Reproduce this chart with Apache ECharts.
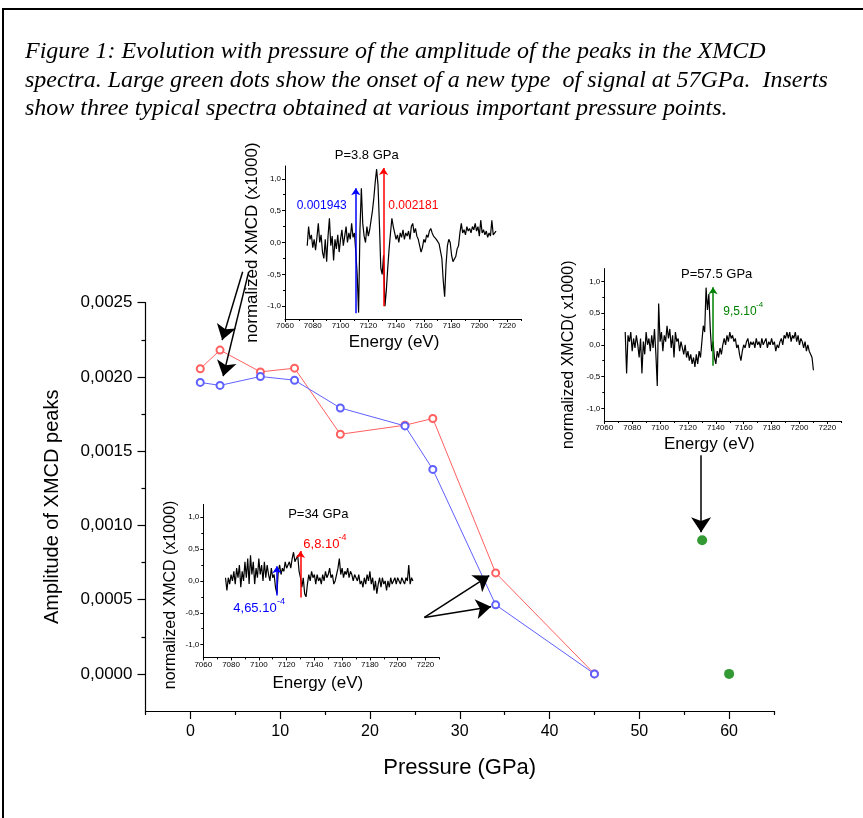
<!DOCTYPE html>
<html><head><meta charset="utf-8">
<script src="https://cdn.jsdelivr.net/npm/echarts@6/dist/echarts.min.js"></script>
<style>html,body{margin:0;padding:0;background:#fff}#c{width:863px;height:818px}</style>
</head><body><div id="c"></div>
<script>
// ---------- main chart data ----------
const pressure = [1.1, 3.3, 7.8, 11.6, 16.7, 23.9, 27.0, 34.0, 45.0];
const ampRed   = [0.002055, 0.002181, 0.002034, 0.002059, 0.001614, 0.001675, 0.00172, 0.00068, 0.0];
const ampBlue  = [0.001963, 0.001943, 0.002003, 0.001978, 0.001791, 0.00167, 0.001377, 0.000465, 0.0];
const greenPressure = [57, 60];
const greenAmp = [0.0009, 0.0];
const xTicks = [0, 10, 20, 30, 40, 50, 60];
const xMinorTicks = [-5, 5, 15, 25, 35, 45, 55, 65];
const yTicks = [0, 0.0005, 0.001, 0.0015, 0.002, 0.0025];
const yMinorTicks = [0.00025, 0.00075, 0.00125, 0.00175, 0.00225];

// ---------- inset data (normalized XMCD x1000, 1 eV step) ----------
const insetXTicks = [7060, 7080, 7100, 7120, 7140, 7160, 7180, 7200, 7220];
const insetXMinorTicks = [7070, 7090, 7110, 7130, 7150, 7170, 7190, 7210, 7230];
const insetYTicks = [-1, -0.5, 0, 0.5, 1];
const insetYMinorTicks = [-0.75, -0.25, 0.25, 0.75];

const spec38Start = 7076;
const spec38 = [
 -0.05, 0.25, 0.05, 0.12, -0.08, 0.05, -0.12, 0.08, 0.30, 0.00,
 0.12, -0.15, -0.25, 0.05, -0.30, 0.10, 0.38, -0.05, 0.10, -0.28,
 0.05, -0.10, 0.12, -0.15, 0.05, 0.20, -0.05, 0.10, 0.25, 0.00,
 0.15, 0.05, 0.30, 0.08, 0.15, -0.15, -0.50, -1.10, 0.20, 0.85,
 0.30, 0.10, 0.00, 0.25, 0.10, 0.20, 0.35, 0.50, 0.70, 0.95,
 1.15, 0.90, 0.30, -0.40, -0.50, -0.20, -1.00, -0.75, -0.40, -0.10,
 0.15, 0.38, 0.25, 0.15, 0.05, 0.12, 0.00, 0.15, 0.08, 0.20,
 0.05, 0.15, 0.10, 0.18, 0.05, 0.25, 0.30, 0.15, 0.22, 0.10,
 0.05, -0.05, -0.15, -0.08, 0.05, 0.00, 0.12, 0.08, 0.18, 0.22,
 0.15, 0.10, 0.12, 0.05, 0.08, -0.02, -0.05, -0.25, -0.60, -0.85,
 -0.35, -0.05, 0.05, 0.00, -0.20, -0.30, -0.28, -0.22, -0.10, -0.05,
 0.15, 0.30, 0.15, 0.20, 0.12, 0.25, 0.18, 0.22, 0.15, 0.25,
 0.20, 0.30, 0.18, 0.25, 0.10, 0.35, 0.15, 0.20, 0.12, 0.18,
 0.08, 0.15, 0.10, 0.35, 0.12, 0.10, 0.18
];

const spec575Start = 7075;
const spec575 = [
 0.20, -0.45, 0.15, 0.05, 0.20, -0.10, 0.10, -0.05, 0.15, 0.00,
 -0.20, 0.10, -0.45, 0.05, -0.15, 0.20, 0.00, 0.10, -0.10, 0.15,
 -0.05, 0.25, -0.15, -0.65, 0.65, 0.05, 0.20, -0.10, 0.15, 0.05,
 0.30, 0.10, 0.25, -0.05, 0.15, -0.20, 0.20, 0.05, 0.10, -0.10,
 0.05, -0.05, -0.15, 0.00, -0.20, -0.10, -0.25, -0.15, -0.30, -0.20,
 -0.35, -0.15, -0.30, -0.10, -0.20, 0.05, 0.30, 0.20, 0.90, 0.55,
 0.80, 0.25, -0.10, 0.05, -0.20, -0.30, -0.10, -0.20, -0.05, -0.15,
 0.00, 0.10, 0.00, 0.15, 0.05, 0.20, 0.10, 0.15, 0.05, 0.10,
 -0.05, 0.00, -0.15, -0.25, -0.10, 0.00, -0.05, 0.05, 0.10, -0.05,
 0.05, 0.00, 0.05, -0.05, 0.10, 0.00, 0.05, -0.05, 0.10, 0.00,
 0.05, 0.10, -0.05, 0.05, 0.00, 0.10, 0.00, 0.05, -0.10, 0.00,
 -0.05, 0.05, 0.10, 0.00, 0.15, 0.10, 0.20, 0.10, 0.20, 0.05,
 0.15, 0.10, 0.20, 0.05, 0.15, 0.00, 0.10, 0.05, -0.05, 0.05,
 -0.10, 0.00, -0.10, -0.15, -0.20, -0.40
];

const spec34Start = 7076;
const spec34 = [
 0.05, -0.15, 0.05, -0.05, 0.10, 0.00, 0.15, -0.05, 0.20, 0.05,
 0.25, -0.10, 0.15, 0.00, 0.30, 0.05, 0.35, -0.05, 0.40, 0.10,
 0.30, -0.05, 0.20, 0.05, 0.35, 0.10, 0.25, 0.00, 0.30, 0.05,
 0.25, 0.10, 0.00, 0.20, 0.05, 0.10, -0.10, -0.20, 0.15, 0.25,
 0.10, 0.20, 0.15, 0.30, 0.20, 0.25, 0.30, 0.20, 0.35, 0.45,
 0.30, 0.35, 0.40, 0.15, 0.05, -0.10, 0.05, -0.20, -0.25, -0.05,
 0.10, 0.00, 0.15, 0.05, 0.10, -0.05, 0.10, 0.00, 0.05, -0.05,
 0.10, 0.00, 0.15, 0.05, 0.10, 0.20, 0.05, 0.10, -0.05, 0.00,
 0.10, 0.20, 0.35, 0.10, 0.20, 0.05, 0.15, 0.10, 0.20, 0.05,
 0.15, 0.10, 0.00, 0.10, 0.05, 0.00, 0.10, -0.05, 0.00, -0.10,
 0.05, -0.05, 0.10, 0.00, 0.15, -0.05, 0.05, -0.15, 0.00, -0.20,
 -0.05, 0.05, -0.10, 0.05, -0.05, 0.00, -0.15, 0.00, -0.10, 0.05,
 -0.05, 0.00, 0.05, -0.05, 0.05, 0.00, -0.05, 0.05, 0.00, -0.05,
 0.05, 0.00, 0.25, -0.05, 0.05, 0.00
];

// ---------- annotation arrows (data coordinates: [start, tip]) ----------
const mainArrows = [
  [[5.82, 0.002708], [3.54, 0.002248]],
  [[6.49, 0.002708], [3.65, 0.002005]],
  [[26.06, 0.00038], [33.29, 0.000662]],
  [[26.06, 0.00038], [33.48, 0.000452]],
  [[56.88, 0.001472], [56.88, 0.000954]]
];
const inset38Arrows = [
  {c: [[7111, -1.11], [7111, 0.85]], color: '#0000ff'},
  {c: [[7131, -1.0], [7131, 1.17]], color: '#ff0000'}
];
const inset575Arrows = [
  {c: [[7138, -0.33], [7138, 0.905]], color: '#008000'}
];
const inset34Arrows = [
  {c: [[7113, -0.23], [7113, 0.23]], color: '#0000ff'},
  {c: [[7130, -0.26], [7130, 0.47]], color: '#ff0000'}
];

// ---------- helpers ----------
const FONT = '"Liberation Sans", Arial, sans-serif';
const pairs = (xs, ys) => xs.map((x, i) => [x, ys[i]]);
const specPairs = (start, vals) => vals.map((v, i) => [start + i, v]);
const comma = d => v => v.toFixed(d).replace('.', ',');

function xAx(grid, min, max, ticks, minor, o) {
  return [{
    gridIndex: grid, type: 'value', min: min, max: max, position: 'bottom',
    axisLine: {show: true, onZero: false, lineStyle: {color: '#000', width: o.lw}},
    axisTick: {show: true, inside: false, length: o.tl, customValues: ticks, lineStyle: {color: '#000', width: o.lw}},
    axisLabel: {show: true, customValues: ticks, margin: o.margin, fontSize: o.fs, color: '#000', fontFamily: FONT,
                formatter: o.fmt},
    splitLine: {show: false},
    name: o.name, nameLocation: 'middle', nameGap: o.nameGap,
    nameTextStyle: {fontSize: o.nfs, color: '#000', fontFamily: FONT, padding: o.npad || 0}
  }, {
    gridIndex: grid, type: 'value', min: min, max: max, position: 'bottom',
    axisLine: {show: false, onZero: false},
    axisTick: {show: true, inside: false, length: o.mtl, customValues: minor, lineStyle: {color: '#000', width: o.lw}},
    axisLabel: {show: false}, splitLine: {show: false}
  }];
}
function yAx(grid, min, max, ticks, minor, o) {
  return [{
    gridIndex: grid, type: 'value', min: min, max: max, position: 'left',
    axisLine: {show: true, onZero: false, lineStyle: {color: '#000', width: o.lw}},
    axisTick: {show: true, inside: false, length: o.tl, customValues: ticks, lineStyle: {color: '#000', width: o.lw}},
    axisLabel: {show: true, customValues: ticks, margin: o.margin, fontSize: o.fs, color: '#000', fontFamily: FONT,
                formatter: o.fmt},
    splitLine: {show: false},
    name: o.name, nameLocation: 'middle', nameGap: o.nameGap,
    nameTextStyle: {fontSize: o.nfs, color: '#000', fontFamily: FONT, padding: o.npad || 0}
  }, {
    gridIndex: grid, type: 'value', min: min, max: max, position: 'left',
    axisLine: {show: false, onZero: false},
    axisTick: {show: true, inside: false, length: o.mtl, customValues: minor, lineStyle: {color: '#000', width: o.lw}},
    axisLabel: {show: false}, splitLine: {show: false}
  }];
}

const insetX = (g, pad, gap) => xAx(g, 7060, 7230, insetXTicks, insetXMinorTicks,
  {lw: 1, tl: 3, mtl: 2, margin: 3, fs: 8, fmt: v => String(v), name: 'Energy (eV)', nameGap: gap, nfs: 17, npad: [0, pad, 0, 0]});
const insetY = (g, name, pad, gap, nfs) => yAx(g, -1.2, 1.2, insetYTicks, insetYMinorTicks,
  {lw: 1, tl: 3, mtl: 2, margin: 4, fs: 8, fmt: comma(1), name: name, nameGap: gap, nfs: nfs, npad: [0, pad, 0, 0]});

const xAxes = [].concat(
  xAx(0, -5, 65, xTicks, xMinorTicks, {lw: 1.2, tl: 8, mtl: 4, margin: 13, fs: 16, fmt: v => String(v),
      name: 'Pressure (GPa)', nameGap: 46, nfs: 22}),
  insetX(1, 18, 15),
  insetX(2, 27, 15),
  insetX(3, 7, 17)
);
const yAxes = [].concat(
  yAx(0, -0.00025, 0.0025, yTicks, yMinorTicks, {lw: 1.2, tl: 8, mtl: 4, margin: 13, fs: 17, fmt: comma(4),
      name: 'Amplitude of XMCD peaks', nameGap: 83, nfs: 20}),
  insetY(1, 'normalized XMCD (x1000)', 0, 24, 17),
  insetY(2, 'normalized XMCD( x1000)', 20, 28, 16),
  insetY(3, 'normalized XMCD (x1000)', 28, 25, 16)
);

function specSeries(idx, start, vals) {
  return {type: 'line', xAxisIndex: idx, yAxisIndex: idx, data: specPairs(start, vals),
    symbol: 'none', lineStyle: {color: '#000', width: 1.2}, itemStyle: {color: '#000'}, silent: true, z: 3};
}
function arrowSeries(idx, arr, size, width) {
  return arr.map(a => ({
    type: 'lines', coordinateSystem: 'cartesian2d', xAxisIndex: idx, yAxisIndex: idx, clip: false,
    symbol: ['none', 'arrow'], symbolSize: size, z: 5,
    lineStyle: {color: a.color, width: width, opacity: 1, curveness: 0},
    data: [{coords: a.c}]
  }));
}

const series = [
  {type: 'line', name: 'red', xAxisIndex: 0, yAxisIndex: 0, data: pairs(pressure, ampRed),
   symbol: 'emptyCircle', symbolSize: 7, lineStyle: {color: '#ff6060', width: 1},
   itemStyle: {color: '#ff6060', borderWidth: 1}, z: 4},
  {type: 'line', name: 'blue', xAxisIndex: 0, yAxisIndex: 0, data: pairs(pressure, ampBlue),
   symbol: 'emptyCircle', symbolSize: 7, lineStyle: {color: '#6060ff', width: 1},
   itemStyle: {color: '#6060ff', borderWidth: 1}, z: 4},
  {type: 'scatter', name: 'green', xAxisIndex: 0, yAxisIndex: 0, data: pairs(greenPressure, greenAmp),
   symbol: 'circle', symbolSize: 10, itemStyle: {color: '#008000'}, z: 4},
  specSeries(2, spec38Start, spec38),
  specSeries(4, spec575Start, spec575),
  specSeries(6, spec34Start, spec34)
].concat(
  arrowSeries(0, mainArrows.map(c => ({c: c, color: '#000'})), [6, 15], 1.5),
  arrowSeries(2, inset38Arrows, [3, 7], 1.5),
  arrowSeries(4, inset575Arrows, [3, 7], 1.5),
  arrowSeries(6, inset34Arrows, [3, 7], 1.5)
);

const SERIF = 'italic 24px "Liberation Serif", "Times New Roman", serif';
function txt(x, y, s, font, color, align) {
  return {type: 'text', x: x, y: y, z: 10,
    style: {text: s, font: font, fill: color || '#000', align: align || 'left', textAlign: align || 'left',
            verticalAlign: 'middle', textVerticalAlign: 'middle'}};
}
const f12 = '12px ' + FONT, f13 = '13px ' + FONT, f8 = '8px ' + FONT, f9 = '9px ' + FONT;

const graphic = [
  {type: 'rect', z: -10, shape: {x: 3, y: 9, width: 900, height: 900},
   style: {fill: 'none', stroke: '#000', lineWidth: 2}},
  txt(25, 52, 'Figure 1: Evolution with pressure of the amplitude of the peaks in the XMCD', SERIF),
  txt(25, 81, 'spectra. Large green dots show the onset of a new type  of signal at 57GPa.  Inserts', SERIF),
  txt(25, 109, 'show three typical spectra obtained at various important pressure points.', SERIF),
  txt(366.7, 155, 'P=3.8 GPa', f13, '#000', 'center'),
  txt(321.7, 206, '0.001943', f12, '#0000ff', 'center'),
  txt(413.3, 206, '0.002181', f12, '#ff0000', 'center'),
  txt(716.7, 274, 'P=57.5 GPa', f13, '#000', 'center'),
  txt(723.3, 311.7, '9,5.10', f12, '#008000'),
  txt(756, 305, '-4', f8, '#008000'),
  txt(318.3, 514, 'P=34 GPa', f13, '#000', 'center'),
  txt(303.3, 544.3, '6,8.10', f13, '#ff0000'),
  txt(338.5, 537.5, '-4', f9, '#ff0000'),
  txt(233.3, 608.3, '4,65.10', f13, '#0000ff'),
  txt(277, 602, '-4', f9, '#0000ff')
];

const chart = echarts.init(document.getElementById('c'), null, {renderer: 'canvas'});
chart.setOption({
  animation: false,
  backgroundColor: '#fff',
  grid: [
    {left: 145.5, top: 302.7, width: 628.5, height: 408.3, containLabel: false, outerBoundsMode: 'none'},
    {left: 285, top: 166, width: 236, height: 153, containLabel: false, outerBoundsMode: 'none'},
    {left: 604.3, top: 268.6, width: 237, height: 152.4, containLabel: false, outerBoundsMode: 'none'},
    {left: 203.3, top: 504.4, width: 236, height: 153, containLabel: false, outerBoundsMode: 'none'}
  ],
  xAxis: xAxes,
  yAxis: yAxes,
  series: series,
  graphic: graphic
});
</script></body></html>
